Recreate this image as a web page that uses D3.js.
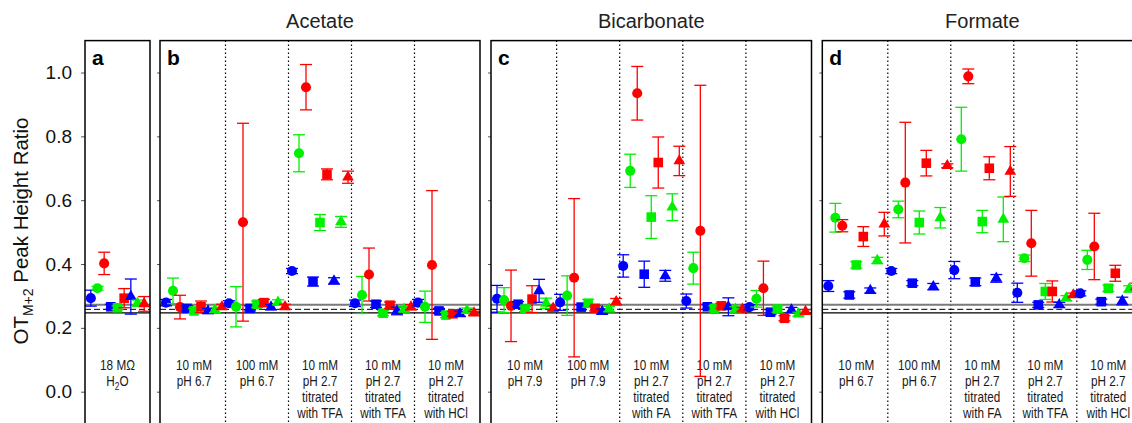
<!DOCTYPE html>
<html>
<head>
<meta charset="utf-8">
<script src="https://cdn.jsdelivr.net/npm/d3@7"></script>
<style>
  body { margin: 0; background: #fff; }
  svg { display: block; font-family: "Liberation Sans", Arial, sans-serif; }
</style>
</head>
<body>
<svg id="chart" width="1132" height="423"></svg>
<script>
// ---------------- DATA ----------------
// series order inside every group: blue circle, green circle, red circle,
// blue square, green square, red square, blue triangle, green triangle, red triangle
const seriesNames = ['s1', 's2', 's3', 's4', 's5', 's6', 's7', 's8', 's9'];

const panelLetters = ['a', 'b', 'c', 'd'];
const panelTitles = ['', 'Acetate', 'Bicarbonate', 'Formate'];

const waterLabels = [['18 MΩ', 'H2O']];
const acetateLabels = [
  ['10 mM', 'pH 6.7'],
  ['100 mM', 'pH 6.7'],
  ['10 mM', 'pH 2.7', 'titrated', 'with TFA'],
  ['10 mM', 'pH 2.7', 'titrated', 'with TFA'],
  ['10 mM', 'pH 2.7', 'titrated', 'with HCl']
];
const bicarbonateLabels = [
  ['10 mM', 'pH 7.9'],
  ['100 mM', 'pH 7.9'],
  ['10 mM', 'pH 2.7', 'titrated', 'with FA'],
  ['10 mM', 'pH 2.7', 'titrated', 'with TFA'],
  ['10 mM', 'pH 2.7', 'titrated', 'with HCl']
];
const formateLabels = [
  ['10 mM', 'pH 6.7'],
  ['100 mM', 'pH 6.7'],
  ['10 mM', 'pH 2.7', 'titrated', 'with FA'],
  ['10 mM', 'pH 2.7', 'titrated', 'with TFA'],
  ['10 mM', 'pH 2.7', 'titrated', 'with HCl']
];

const waterMeans = [[0.293, 0.324, 0.402, 0.266, 0.263, 0.293, 0.298, 0.277, 0.275]];
const waterErrs  = [[0.025, 0.006, 0.035, 0.008, 0.006, 0.030, 0.055, 0.010, 0.023]];

const acetateMeans = [
  [0.279, 0.316, 0.265, 0.261, 0.253, 0.266, 0.253, 0.256, 0.266],
  [0.277, 0.266, 0.531, 0.261, 0.274, 0.279, 0.265, 0.280, 0.266],
  [0.378, 0.747, 0.954, 0.345, 0.530, 0.681, 0.347, 0.532, 0.672],
  [0.277, 0.303, 0.367, 0.274, 0.246, 0.271, 0.253, 0.258, 0.265],
  [0.279, 0.266, 0.397, 0.253, 0.240, 0.244, 0.244, 0.254, 0.246]
];
const acetateErrs = [
  [0.010, 0.040, 0.037, 0.008, 0.008, 0.018, 0.008, 0.008, 0.008],
  [0.008, 0.063, 0.310, 0.008, 0.010, 0.010, 0.008, 0.008, 0.008],
  [0.008, 0.058, 0.071, 0.014, 0.025, 0.017, 0.010, 0.017, 0.019],
  [0.010, 0.058, 0.083, 0.010, 0.008, 0.010, 0.012, 0.008, 0.008],
  [0.010, 0.049, 0.233, 0.008, 0.008, 0.008, 0.008, 0.008, 0.006]
];

const bicarbonateMeans = [
  [0.291, 0.287, 0.269, 0.274, 0.259, 0.290, 0.316, 0.277, 0.261],
  [0.280, 0.301, 0.357, 0.265, 0.277, 0.261, 0.251, 0.259, 0.282],
  [0.394, 0.692, 0.935, 0.368, 0.547, 0.718, 0.363, 0.578, 0.723],
  [0.284, 0.387, 0.504, 0.266, 0.261, 0.269, 0.266, 0.258, 0.258],
  [0.265, 0.291, 0.324, 0.249, 0.259, 0.230, 0.256, 0.243, 0.251]
];
const bicarbonateErrs = [
  [0.042, 0.039, 0.112, 0.008, 0.008, 0.042, 0.036, 0.016, 0.008],
  [0.025, 0.062, 0.248, 0.008, 0.012, 0.008, 0.008, 0.008, 0.010],
  [0.035, 0.052, 0.084, 0.041, 0.067, 0.080, 0.017, 0.042, 0.046],
  [0.022, 0.050, 0.456, 0.008, 0.008, 0.008, 0.028, 0.008, 0.006],
  [0.008, 0.026, 0.085, 0.008, 0.010, 0.008, 0.008, 0.006, 0.006]
];

const formateMeans = [
  [0.331, 0.545, 0.520, 0.303, 0.397, 0.486, 0.317, 0.411, 0.525],
  [0.378, 0.571, 0.655, 0.340, 0.530, 0.716, 0.329, 0.545, 0.708],
  [0.381, 0.791, 0.988, 0.344, 0.533, 0.700, 0.355, 0.540, 0.690],
  [0.310, 0.418, 0.465, 0.272, 0.314, 0.314, 0.272, 0.293, 0.303],
  [0.308, 0.413, 0.455, 0.282, 0.324, 0.371, 0.284, 0.322, 0.330]
];
const formateErrs = [
  [0.017, 0.045, 0.019, 0.010, 0.010, 0.031, 0.008, 0.010, 0.037],
  [0.008, 0.026, 0.189, 0.008, 0.036, 0.040, 0.010, 0.032, 0.006],
  [0.027, 0.100, 0.023, 0.012, 0.035, 0.036, 0.012, 0.070, 0.078],
  [0.030, 0.010, 0.103, 0.008, 0.025, 0.033, 0.008, 0.008, 0.006],
  [0.008, 0.030, 0.104, 0.008, 0.010, 0.025, 0.012, 0.010, 0.010]
];

// horizontal reference levels: grey solid, black dashed, black solid
const refLevels = [0.272, 0.258, 0.247];
const yTicks = [0.0, 0.2, 0.4, 0.6, 0.8, 1.0];

// ---------------- STYLE / LAYOUT ----------------
const seriesColor = ['#0000ff', '#00f000', '#ff0000', '#0000ff', '#00f000', '#ff0000', '#0000ff', '#00f000', '#ff0000'];
const seriesShape = [d3.symbolCircle, d3.symbolCircle, d3.symbolCircle,
                     d3.symbolSquare, d3.symbolSquare, d3.symbolSquare,
                     d3.symbolTriangle, d3.symbolTriangle, d3.symbolTriangle];
const shapeSize = {circle: 80, square: 92, triangle: 60};
const refStyle = [
  {stroke: '#7a7a7a', width: 2, dash: null},
  {stroke: '#000', width: 1, dash: '6,3'},
  {stroke: '#000', width: 1.3, dash: null}
];

const panels = [
  {left: 85,    right: 150,    means: waterMeans,       errs: waterErrs,       labels: waterLabels},
  {left: 160,   right: 480,    means: acetateMeans,     errs: acetateErrs,     labels: acetateLabels},
  {left: 491,   right: 811.5,  means: bicarbonateMeans, errs: bicarbonateErrs, labels: bicarbonateLabels},
  {left: 822.3, right: 1142.3, means: formateMeans,     errs: formateErrs,     labels: formateLabels}
];

const svg = d3.select('#chart');

const y = d3.scaleLinear()
            .domain([-0.1, 1.1])
            .range([423.6, 40.6]);

const yTop = y(1.1), yBottom = y(-0.13);

//--------------Y LABEL--------------------------------
const ylab = svg.append('text')
    .attr('transform', `translate(28,231) rotate(-90)`)
    .attr('text-anchor', 'middle')
    .attr('font-size', 20.5)
    .attr('fill', '#111');
ylab.append('tspan').text('OT');
ylab.append('tspan').attr('font-size', 14).attr('dy', 5).text('M+2');
ylab.append('tspan').attr('dy', -5).text(' Peak Height Ratio');

//--------------PANELS---------------------------------
panels.forEach((p, pi) => {
  const g = svg.append('g');
  const nGroups = p.means.length;
  const x = d3.scaleLinear()
              .domain([0, nGroups])
              .range([p.left + 2.5, p.right - 2.5]);

  // y axis ticks (labels only on the first panel)
  const axis = d3.axisLeft(y)
                 .tickValues(yTicks)
                 .tickSize(pi === 0 ? 4 : 3)
                 .tickFormat(pi === 0 ? d3.format('.1f') : '');
  const ax = g.append('g')
              .attr('transform', `translate(${p.left},0)`)
              .call(axis);
  ax.select('.domain').remove();
  ax.selectAll('.tick line').attr('stroke', '#555').attr('stroke-width', 1);
  ax.selectAll('.tick text')
    .attr('font-size', 19)
    .attr('font-family', '"Liberation Sans", Arial, sans-serif')
    .attr('fill', '#111')
    .attr('x', -13);

  // group dividers
  d3.range(1, nGroups).forEach(k => {
    g.append('line')
      .attr('x1', x(k)).attr('x2', x(k))
      .attr('y1', yTop).attr('y2', yBottom)
      .attr('stroke', '#000')
      .attr('stroke-width', 1.2)
      .attr('stroke-dasharray', '1.3,2.7');
  });

  // reference levels
  refLevels.forEach((v, i) => {
    g.append('line')
      .attr('x1', p.left).attr('x2', p.right)
      .attr('y1', y(v)).attr('y2', y(v))
      .attr('stroke', refStyle[i].stroke)
      .attr('stroke-width', refStyle[i].width)
      .attr('stroke-dasharray', refStyle[i].dash);
  });

  // group labels
  p.labels.forEach((lines, k) => {
    const t = g.append('text')
               .attr('transform', `translate(${x(k + 0.5)},370) scale(0.84,1)`)
               .attr('text-anchor', 'middle')
               .attr('font-size', 14)
               .attr('fill', '#1a1a1a');
    lines.forEach((line, li) => {
      const ts = t.append('tspan').attr('x', 0).attr('y', li * 16);
      if (line === 'H2O') {
        ts.append('tspan').text('H');
        ts.append('tspan').attr('font-size', 10).attr('dy', 4).text('2');
        ts.append('tspan').attr('dy', -4).text('O');
      } else {
        ts.text(line);
      }
    });
  });

  // points with error bars
  const pts = [];
  p.means.forEach((grp, k) => {
    grp.forEach((m, i) => {
      pts.push({x: x(k + (i + 0.5) / seriesNames.length), m: m, e: p.errs[k][i], s: i});
    });
  });

  const pg = g.selectAll('g.pt')
              .data(pts)
              .enter().append('g')
              .attr('class', 'pt');

  pg.append('line')
    .attr('x1', d => d.x).attr('x2', d => d.x)
    .attr('y1', d => y(d.m - d.e)).attr('y2', d => y(d.m + d.e))
    .attr('stroke', d => seriesColor[d.s])
    .attr('stroke-width', 1.3);
  [1, -1].forEach(sign => {
    pg.append('line')
      .attr('x1', d => d.x - 6).attr('x2', d => d.x + 6)
      .attr('y1', d => y(d.m + sign * d.e)).attr('y2', d => y(d.m + sign * d.e))
      .attr('stroke', d => seriesColor[d.s])
      .attr('stroke-width', 1.3);
  });
  pg.append('path')
    .attr('transform', d => `translate(${d.x},${y(d.m)})`)
    .attr('d', d => {
      const sh = seriesShape[d.s];
      const size = sh === d3.symbolCircle ? shapeSize.circle
                 : sh === d3.symbolSquare ? shapeSize.square
                 : shapeSize.triangle;
      return d3.symbol().type(sh).size(size)();
    })
    .attr('fill', d => seriesColor[d.s]);

  // frame (bottom edge falls outside the picture)
  g.append('rect')
    .attr('x', p.left).attr('y', yTop)
    .attr('width', p.right - p.left)
    .attr('height', yBottom - yTop)
    .attr('fill', 'none')
    .attr('stroke', '#000')
    .attr('stroke-width', 1.5);

  // panel letter
  g.append('text')
    .attr('x', p.left + 7).attr('y', 65)
    .attr('font-size', 21)
    .attr('font-weight', 'bold')
    .attr('fill', '#000')
    .text(panelLetters[pi]);

  // heading
  if (panelTitles[pi]) {
    g.append('text')
      .attr('x', (p.left + p.right) / 2).attr('y', 28)
      .attr('text-anchor', 'middle')
      .attr('font-size', 20)
      .attr('fill', '#222')
      .text(panelTitles[pi]);
  }
});
</script>
</body>
</html>
